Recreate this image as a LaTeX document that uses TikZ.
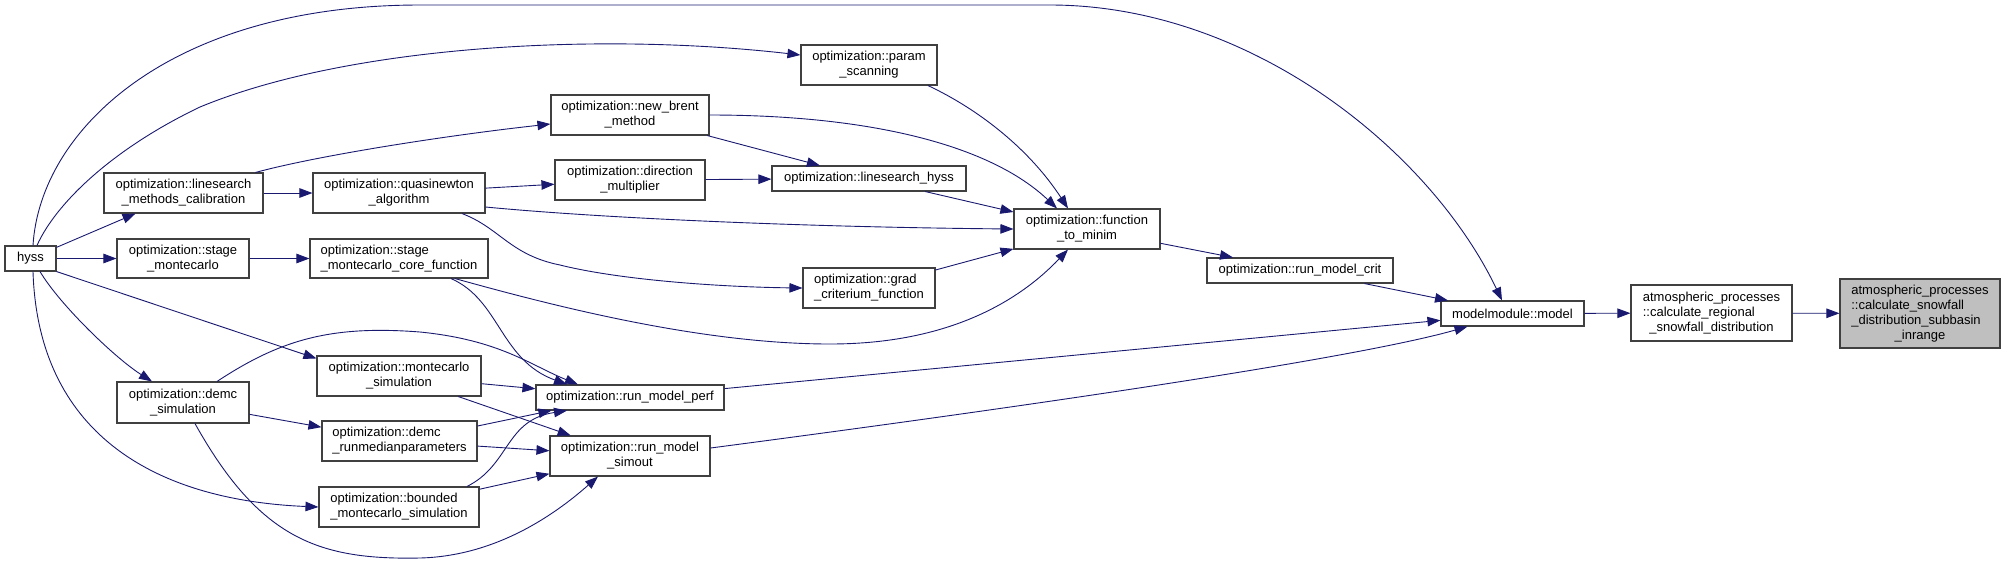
\documentclass[tikz,border=0pt]{standalone}
\usepackage{fontspec}
\setmainfont{Liberation Sans}
\usetikzlibrary{arrows.meta,calc}
\definecolor{edgec}{HTML}{191970}
\definecolor{boxc}{HTML}{404040}
\definecolor{targetc}{HTML}{BFBFBF}
\newcommand\dxl[2]{\begin{tabular}{@{}l@{}}#1\\\multicolumn{1}{@{}c@{}}{#2}\end{tabular}}
\begin{document}
\begin{tikzpicture}[x=1pt,y=-1pt,
  fn/.style={draw=boxc,line width=1.1pt,fill=white,inner sep=0pt,font=\fontsize{13}{15}\selectfont,align=center},
  call/.style={draw=edgec,line width=0.9pt,-{Triangle[length=13pt,width=9.5pt]}},
]
\useasboundingbox (0,0) rectangle (2005,566);
% nodes
\node[fn,minimum width=51pt,minimum height=25pt] (hyss) at (30.5,258.5) {hyss};
\node[fn,minimum width=159pt,minimum height=40pt] (lmc) at (183.5,193) {\dxl{optimization::linesearch}{\_methods\_calibration}};
\node[fn,minimum width=132pt,minimum height=39pt] (smc) at (183,258.5) {\dxl{optimization::stage}{\_montecarlo}};
\node[fn,minimum width=132pt,minimum height=41pt] (demc) at (183,402.5) {\dxl{optimization::demc}{\_simulation}};
\node[fn,minimum width=172pt,minimum height=40pt] (qn) at (399,193) {\dxl{optimization::quasinewton}{\_algorithm}};
\node[fn,minimum width=178pt,minimum height=39pt] (smcf) at (399,258.5) {\dxl{optimization::stage}{\_montecarlo\_core\_function}};
\node[fn,minimum width=164pt,minimum height=40pt] (mcs) at (399,376) {\dxl{optimization::montecarlo}{\_simulation}};
\node[fn,minimum width=155pt,minimum height=40pt] (drp) at (399.5,441) {\dxl{optimization::demc}{\_runmedianparameters}};
\node[fn,minimum width=160pt,minimum height=40pt] (bmc) at (399,507) {\dxl{optimization::bounded}{\_montecarlo\_simulation}};
\node[fn,minimum width=158pt,minimum height=40pt] (nb) at (630,115) {\dxl{optimization::new\_brent}{\_method}};
\node[fn,minimum width=150pt,minimum height=40pt] (dm) at (630,180) {\dxl{optimization::direction}{\_multiplier}};
\node[fn,minimum width=188pt,minimum height=25pt] (rmp) at (630,397.5) {optimization::run\_model\_perf};
\node[fn,minimum width=160pt,minimum height=40pt] (rms) at (630,456) {\dxl{optimization::run\_model}{\_simout}};
\node[fn,minimum width=136pt,minimum height=40pt] (ps) at (869,65) {\dxl{optimization::param}{\_scanning}};
\node[fn,minimum width=194pt,minimum height=25pt] (lh) at (869,178.5) {optimization::linesearch\_hyss};
\node[fn,minimum width=132pt,minimum height=40pt] (gc) at (869,288) {\dxl{optimization::grad}{\_criterium\_function}};
\node[fn,minimum width=146pt,minimum height=40pt] (fm) at (1087,229) {\dxl{optimization::function}{\_to\_minim}};
\node[fn,minimum width=186pt,minimum height=25pt] (rmc) at (1300,270.5) {optimization::run\_model\_crit};
\node[fn,minimum width=143pt,minimum height=25pt] (mm) at (1512.5,313.5) {modelmodule::model};
\node[fn,minimum width=161pt,minimum height=56pt] (cr) at (1711.5,313) {\dxl{atmospheric\_processes\\::calculate\_regional}{\_snowfall\_distribution}};
\node[fn,fill=targetc,minimum width=160pt,minimum height=69pt] (tg) at (1920,313.5) {\dxl{atmospheric\_processes\\::calculate\_snowfall\\\_distribution\_subbasin}{\_inrange}};
% edges from hyss
\draw[call] (hyss) -- (lmc);
\draw[call] (hyss) -- (smc);
\draw[call] ($(hyss.south)+(9.5,0)$) .. controls (60,305) and (115,358) .. ($(demc.north)+(-31,0)$);
\draw[call] (hyss.south east) -- ($(mcs.north west)+(0,3)$);
\draw[call] ($(hyss.south)+(2.5,0)$) .. controls (38,430) and (150,500) .. (bmc.west);
\draw[call] ($(hyss.north)+(6.5,0)$) .. controls (55,205) and (110,150) .. (200,107) .. controls (350,45) and (600,32) .. ($(ps.west)+(0,-10)$);
\draw[call] ($(hyss.north)+(2.5,0)$) .. controls (40,130) and (170,5) .. (420,5) -- (1050,5) .. controls (1250,5) and (1430,150) .. ($(mm.north)+(-10.5,0)$);
% other edges
\draw[call] (lmc) -- (qn);
\draw[call] ($(lmc.north)+(72,0)$) .. controls (320,155) and (450,135) .. ($(nb.west)+(0,9)$);
\draw[call] (smc) -- (smcf);
\draw[call] (qn) -- (dm);
\draw[call] ($(qn.east)+(0,14)$) .. controls (600,218) and (800,227) .. (fm.west);
\draw[call] ($(qn.south)+(63,0)$) .. controls (500,228) and (510,255) .. (560,265) .. controls (620,280) and (720,287) .. (gc.west);
\draw[call] (dm) -- (lh);
\draw[call] (nb) -- (lh);
\draw[call] (nb.east) .. controls (870,115) and (990,145) .. ($(fm.north)+(-30,0)$);
\draw[call] ($(ps.south)+(59,0)$) .. controls (980,110) and (1030,150) .. ($(fm.north)+(-19,0)$);
\draw[call] (lh) -- (fm);
\draw[call] (gc) -- (fm);
\draw[call] ($(smcf.south)+(56,0)$) .. controls (550,305) and (700,344) .. (830,344) .. controls (950,344) and (1020,300) .. ($(fm.south)+(-19,0)$);
\draw[call] ($(smcf.south)+(52,0)$) .. controls (500,300) and (500,360) .. ($(rmp.north)+(-63,0)$);
\draw[call] (mcs) -- (rmp);
\draw[call] (mcs) -- (rms);
\draw[call] ($(drp.east)+(0,-15)$) -- ($(rmp.south west)+(16,0)$);
\draw[call] (drp) -- (rms);
\draw[call] ($(bmc.north)+(68,0)$) .. controls (510,465) and (505,420) .. ($(rmp.south)+(-63,0)$);
\draw[call] (bmc) -- (rms);
\draw[call] ($(demc.north)+(34,0)$) .. controls (280,340) and (330,325) .. (420,332) .. controls (500,340) and (530,365) .. ($(rmp.north)+(-52,0)$);
\draw[call] (demc) -- (drp);
\draw[call] ($(demc.south)+(12,0)$) .. controls (260,540) and (320,560) .. (420,558) .. controls (500,556) and (560,510) .. ($(rms.south)+(-32,0)$);
\draw[call] (rmp) -- (mm);
\draw[call] ($(rms.east)+(0,-8)$) .. controls (1000,410) and (1350,360) .. ($(mm.south)+(-45,0)$);
\draw[call] (fm) -- (rmc);
\draw[call] (rmc) -- (mm);
\draw[call] (mm) -- (cr);
\draw[call] (cr) -- (tg);
\end{tikzpicture}
\end{document}
